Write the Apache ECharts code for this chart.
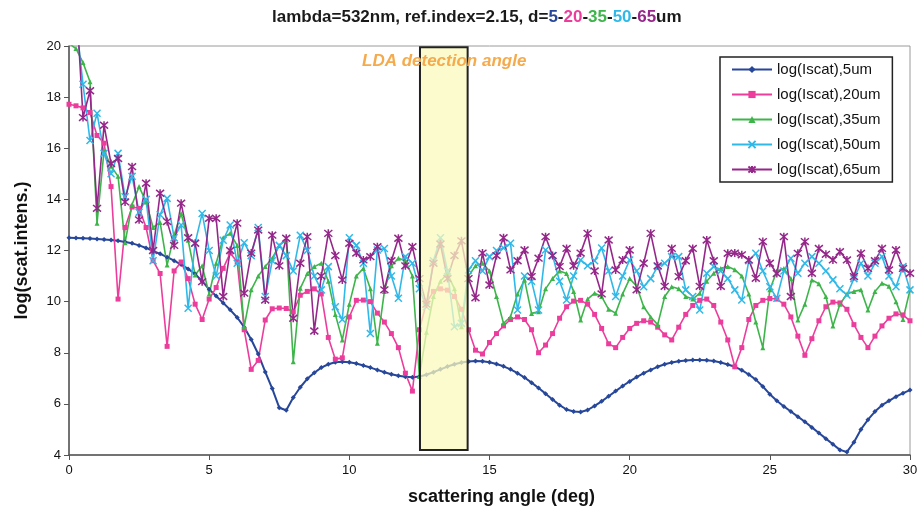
<!DOCTYPE html>
<html>
<head>
<meta charset="utf-8">
<script src="https://cdn.jsdelivr.net/npm/echarts@6/dist/echarts.min.js"></script>
<style>html,body{margin:0;padding:0;background:#fff}#chart{width:917px;height:508px}</style>
</head>
<body>
<div id="chart"></div>
<script>
// scattering angle, deg
var angles = [0, 0.25, 0.5, 0.75, 1, 1.25, 1.5, 1.75, 2, 2.25, 2.5, 2.75, 3, 3.25, 3.5, 3.75, 4, 4.25, 4.5, 4.75,
  5, 5.25, 5.5, 5.75, 6, 6.25, 6.5, 6.75, 7, 7.25, 7.5, 7.75, 8, 8.25, 8.5, 8.75, 9, 9.25, 9.5, 9.75,
  10, 10.25, 10.5, 10.75, 11, 11.25, 11.5, 11.75, 12, 12.25, 12.5, 12.75, 13, 13.25, 13.5, 13.75, 14, 14.25, 14.5, 14.75,
  15, 15.25, 15.5, 15.75, 16, 16.25, 16.5, 16.75, 17, 17.25, 17.5, 17.75, 18, 18.25, 18.5, 18.75, 19, 19.25, 19.5, 19.75,
  20, 20.25, 20.5, 20.75, 21, 21.25, 21.5, 21.75, 22, 22.25, 22.5, 22.75, 23, 23.25, 23.5, 23.75, 24, 24.25, 24.5, 24.75,
  25, 25.25, 25.5, 25.75, 26, 26.25, 26.5, 26.75, 27, 27.25, 27.5, 27.75, 28, 28.25, 28.5, 28.75, 29, 29.25, 29.5, 29.75, 30];

var d5 = [12.50, 12.49, 12.48, 12.47, 12.45, 12.43, 12.41, 12.38, 12.33, 12.28, 12.20, 12.10, 11.98, 11.87, 11.74, 11.60, 11.45, 11.28, 11.08, 10.80,
  10.48, 10.22, 9.95, 9.68, 9.38, 9.00, 8.52, 7.95, 7.25, 6.60, 5.85, 5.75, 6.25, 6.65, 6.98, 7.22, 7.42, 7.55, 7.63, 7.65,
  7.63, 7.58, 7.50, 7.42, 7.33, 7.24, 7.16, 7.10, 7.06, 7.04, 7.07, 7.14, 7.24, 7.35, 7.46, 7.55, 7.62, 7.66, 7.68, 7.67,
  7.63, 7.56, 7.47, 7.35, 7.20, 7.03, 6.83, 6.62, 6.40, 6.17, 5.95, 5.78, 5.70, 5.68, 5.76, 5.92, 6.10, 6.30, 6.50, 6.70,
  6.88, 7.05, 7.20, 7.33, 7.45, 7.55, 7.62, 7.67, 7.70, 7.72, 7.72, 7.71, 7.68, 7.62, 7.54, 7.45, 7.32, 7.15, 6.95, 6.68,
  6.38, 6.12, 5.90, 5.70, 5.50, 5.30, 5.08, 4.86, 4.64, 4.42, 4.20, 4.12, 4.50, 5.00, 5.38, 5.70, 5.95, 6.12, 6.28, 6.42, 6.54];

var d20 = [17.72, 17.66, 17.58, 17.40, 16.50, 16.20, 14.50, 10.10, 12.90, 13.70, 13.65, 12.90, 11.60, 11.10, 8.25, 11.20, 11.55, 10.90, 9.90, 9.30,
  10.10, 10.55, 11.30, 11.90, 11.55, 8.90, 7.35, 7.70, 9.28, 9.72, 9.75, 9.73, 9.60, 10.25, 10.40, 10.50, 10.30, 8.60, 7.75, 7.80,
  9.40, 10.05, 10.06, 10.00, 9.55, 9.20, 8.75, 8.20, 7.20, 6.50, 8.90, 9.95, 10.40, 10.50, 10.45, 10.20, 9.70, 8.90, 8.10, 7.95,
  8.40, 8.75, 9.05, 9.30, 9.40, 9.30, 8.90, 8.00, 8.30, 8.75, 9.35, 9.80, 10.02, 10.05, 9.90, 9.50, 8.95, 8.35, 8.20, 8.60,
  8.95, 9.15, 9.25, 9.20, 9.00, 8.70, 8.50, 9.00, 9.50, 9.85, 10.05, 10.10, 9.85, 9.20, 8.50, 7.45, 8.20, 9.30, 9.85, 10.05,
  10.12, 10.10, 9.90, 9.40, 8.65, 7.90, 8.55, 9.25, 9.80, 9.98, 9.95, 9.70, 9.10, 8.60, 8.20, 8.65, 9.05, 9.35, 9.52, 9.48, 9.25];

var d35 = [20.10, 19.90, 19.35, 18.60, 13.07, 15.90, 15.30, 14.90, 12.30, 13.80, 14.50, 13.90, 12.90, 13.10, 11.43, 12.60, 13.45, 12.40, 11.04, 11.40,
  10.30, 11.50, 12.50, 12.67, 12.20, 9.02, 10.46, 11.00, 11.37, 11.70, 12.20, 12.41, 7.65, 10.52, 11.10, 11.37, 11.50, 10.80, 9.50, 8.50,
  9.90, 11.00, 11.30, 10.50, 8.37, 10.40, 11.40, 11.70, 11.60, 11.00, 7.07, 8.80, 10.20, 10.80, 11.10, 10.50, 9.02, 11.00, 11.40, 11.50,
  11.20, 10.20, 9.15, 9.41, 10.30, 10.85, 9.54, 9.60, 10.50, 10.90, 11.20, 11.10, 10.40, 9.28, 10.10, 10.33, 10.20, 9.70, 9.55, 10.30,
  10.90, 10.60, 9.80, 9.40, 9.10, 10.20, 10.58, 10.50, 10.20, 10.10, 10.33, 10.80, 11.11, 11.30, 11.37, 11.25, 11.00, 10.30, 9.20, 8.20,
  10.46, 11.20, 11.30, 10.90, 9.28, 9.90, 10.85, 10.70, 10.20, 9.05, 9.90, 10.30, 10.40, 10.46, 9.67, 10.40, 10.72, 10.60, 10.00, 9.30, 10.46];

var d50 = [22.50, 21.00, 18.50, 16.30, 17.37, 15.80, 15.00, 15.80, 14.10, 14.90, 13.50, 14.00, 11.60, 13.40, 14.04, 12.50, 13.00, 9.74, 12.30, 13.45,
  12.00, 11.00, 12.40, 13.00, 11.50, 12.30, 11.80, 12.90, 10.20, 11.60, 12.20, 11.80, 11.20, 12.60, 12.00, 11.00, 10.46, 11.37, 9.80, 9.30,
  12.50, 12.20, 11.50, 8.75, 12.02, 12.08, 11.00, 10.13, 11.76, 11.50, 10.50, 9.80, 11.60, 12.50, 11.20, 9.02, 9.15, 11.24, 11.60, 11.20,
  11.76, 12.00, 12.10, 12.28, 9.67, 11.00, 10.80, 9.67, 12.02, 11.80, 10.80, 10.06, 11.00, 11.63, 11.40, 11.60, 12.10, 11.20, 10.20, 11.00,
  11.63, 11.20, 10.58, 10.90, 11.37, 11.50, 11.76, 11.76, 10.46, 10.20, 9.67, 11.11, 11.37, 11.20, 10.90, 10.46, 10.06, 11.60, 11.89, 11.20,
  10.58, 10.13, 11.20, 11.70, 11.11, 11.50, 11.76, 11.50, 11.20, 10.85, 10.50, 10.26, 10.90, 11.50, 11.00, 11.50, 11.76, 11.00, 10.58, 11.37, 10.46];

var d65 = [23.50, 22.00, 17.20, 18.25, 13.65, 16.90, 15.40, 15.60, 13.90, 15.28, 13.20, 14.63, 12.00, 14.24, 13.13, 12.20, 13.85, 12.50, 12.28, 10.78,
  13.26, 13.26, 10.20, 12.00, 13.07, 10.33, 11.90, 12.80, 10.06, 12.60, 11.40, 12.48, 9.35, 11.50, 12.54, 8.85, 11.00, 12.67, 11.80, 10.85,
  12.28, 11.90, 11.63, 11.76, 12.15, 10.46, 11.60, 12.48, 11.40, 12.15, 10.90, 9.90, 11.50, 12.25, 10.90, 11.80, 12.38, 10.90, 10.15, 11.90,
  10.65, 11.80, 12.50, 11.24, 11.60, 12.02, 10.98, 11.70, 12.54, 11.80, 11.37, 12.08, 11.40, 11.90, 12.67, 11.20, 10.30, 12.41, 11.24, 11.63,
  12.02, 10.46, 11.50, 12.67, 11.40, 10.60, 12.08, 10.98, 11.60, 12.08, 10.60, 12.41, 11.60, 10.60, 11.89, 11.90, 11.83, 11.63, 10.91, 12.35,
  11.50, 11.10, 12.54, 10.20, 11.89, 12.35, 11.11, 12.08, 11.85, 11.63, 11.95, 11.63, 10.98, 11.89, 11.30, 11.60, 12.08, 11.24, 12.02, 11.30, 11.11];

var seriesNames = ['log(Iscat),5um', 'log(Iscat),20um', 'log(Iscat),35um', 'log(Iscat),50um', 'log(Iscat),65um'];
var ldaRange = [12.52, 14.22];

function pairs(vals) {
  return angles.map(function (a, i) { return [a, vals[i]]; });
}

var font = 'Liberation Sans, Arial, sans-serif';
var xMark = 'path://M0,0L10,10M10,0L0,10';
var starMark = 'path://M0,0L10,10M10,0L0,10M5,-1L5,11';

var chart = echarts.init(document.getElementById('chart'));
chart.setOption({
  backgroundColor: '#fff',
  animation: false,
  title: {
    left: 267,
    top: 4,
    text: '{b|lambda=532nm, ref.index=2.15, d=}{c1|5}{b|-}{c2|20}{b|-}{c3|35}{b|-}{c4|50}{b|-}{c5|65}{b|um}',
    textStyle: {
      rich: {
        b: { fontFamily: font, fontSize: 17, fontWeight: 'bold', color: '#1a1a1a' },
        c1: { fontFamily: font, fontSize: 17, fontWeight: 'bold', color: '#27479a' },
        c2: { fontFamily: font, fontSize: 17, fontWeight: 'bold', color: '#ec3d9c' },
        c3: { fontFamily: font, fontSize: 17, fontWeight: 'bold', color: '#3db54a' },
        c4: { fontFamily: font, fontSize: 17, fontWeight: 'bold', color: '#30b9e8' },
        c5: { fontFamily: font, fontSize: 17, fontWeight: 'bold', color: '#96278a' }
      }
    }
  },
  legend: {
    data: seriesNames,
    orient: 'vertical',
    left: 720,
    top: 57,
    padding: [5, 12, 5, 11],
    itemWidth: 40,
    itemHeight: 9,
    itemGap: 10,
    backgroundColor: '#fff',
    borderColor: '#222',
    borderWidth: 1.5,
    textStyle: { fontFamily: font, fontSize: 15, color: '#111' }
  },
  grid: {
    left: 69, right: 7, top: 46, bottom: 53,
    containLabel: false, outerBoundsMode: 'none',
    show: true, borderColor: '#9a9a9a', borderWidth: 1
  },
  xAxis: {
    type: 'value', min: 0, max: 30, interval: 5,
    name: 'scattering angle (deg)', nameLocation: 'middle', nameGap: 33,
    nameTextStyle: { fontFamily: font, fontSize: 18, fontWeight: 'bold', color: '#111', padding: [0, 0, 0, 24] },
    axisLine: { lineStyle: { color: '#555', width: 1.5 } },
    axisTick: { length: 5, lineStyle: { color: '#555' } },
    axisLabel: { fontFamily: font, fontSize: 13, color: '#111', margin: 9 },
    splitLine: { show: false }
  },
  yAxis: {
    type: 'value', min: 4, max: 20, interval: 2,
    name: 'log(scat.intens.)', nameLocation: 'middle', nameGap: 38,
    nameTextStyle: { fontFamily: font, fontSize: 18, fontWeight: 'bold', color: '#111' },
    axisLine: { show: true, lineStyle: { color: '#555', width: 1.5 } },
    axisTick: { show: true, length: 5, lineStyle: { color: '#555' } },
    axisLabel: { fontFamily: font, fontSize: 13, color: '#111', margin: 8 },
    splitLine: { show: false }
  },
  graphic: [{
    type: 'text', left: 362, top: 53, z: 100,
    style: { text: 'LDA detection angle', fill: '#f5aa4c', font: 'italic bold 17px ' + font }
  }],
  series: [
    {
      name: seriesNames[0], type: 'line', data: pairs(d5),
      symbol: 'diamond', symbolSize: 5,
      itemStyle: { color: '#27479a' }, lineStyle: { color: '#27479a', width: 2 }
    },
    {
      name: seriesNames[1], type: 'line', data: pairs(d20),
      symbol: 'rect', symbolSize: 5,
      itemStyle: { color: '#ec3d9c' }, lineStyle: { color: '#ec3d9c', width: 1.6 }
    },
    {
      name: seriesNames[2], type: 'line', data: pairs(d35),
      symbol: 'triangle', symbolSize: 5,
      itemStyle: { color: '#3db54a' }, lineStyle: { color: '#3db54a', width: 1.6 }
    },
    {
      name: seriesNames[3], type: 'line', data: pairs(d50),
      symbol: xMark, symbolSize: 7,
      itemStyle: { color: '#30b9e8', borderColor: '#30b9e8', borderWidth: 1.5 },
      lineStyle: { color: '#30b9e8', width: 1.6 }
    },
    {
      name: seriesNames[4], type: 'line', data: pairs(d65),
      symbol: starMark, symbolSize: 8,
      itemStyle: { color: '#96278a', borderColor: '#96278a', borderWidth: 1.5 },
      lineStyle: { color: '#96278a', width: 1.6 }
    },
    {
      name: 'LDA', type: 'line', data: [],
      markArea: {
        silent: true, z: 10,
        itemStyle: { color: 'rgba(251,249,188,0.75)', borderColor: '#222', borderWidth: 2 },
        data: [[{ xAxis: ldaRange[0], yAxis: 19.95 }, { xAxis: ldaRange[1], yAxis: 4.2 }]]
      }
    }
  ]
});
</script>
</body>
</html>
